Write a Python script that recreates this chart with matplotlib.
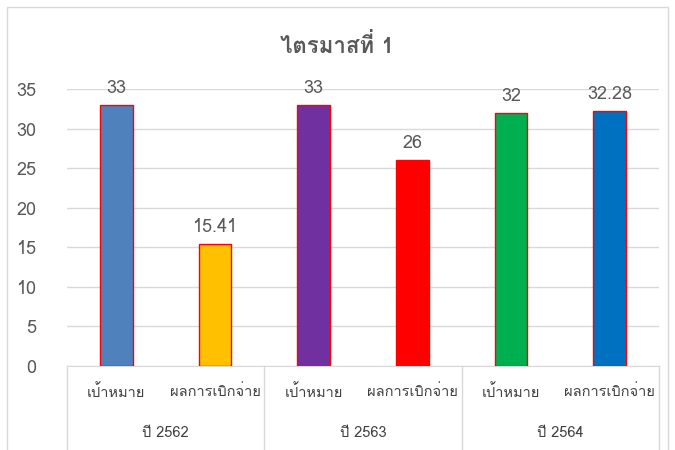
import matplotlib
matplotlib.use("Agg")
import matplotlib.pyplot as plt
from matplotlib import font_manager
from matplotlib.ft2font import FT2Font
from matplotlib.lines import Line2D
from matplotlib.patches import Rectangle

# ---- data ----
title = "ไตรมาสที่ 1"
groups = ["ปี 2562", "ปี 2563", "ปี 2564"]
subcats = ["เป้าหมาย", "ผลการเบิกจ่าย"]
values = [33, 15.41, 33, 26, 32, 32.28]
value_labels = ["33", "15.41", "33", "26", "32", "32.28"]
colors = ["#4F81BD", "#FFC000", "#7030A0", "#FF0000", "#00B050", "#0070C0"]
yticks = [0, 5, 10, 15, 20, 25, 30, 35]

# find a font with Thai glyphs
thai_family = None
for fe in font_manager.fontManager.ttflist:
    try:
        f = FT2Font(fe.fname)
        cm = f.get_charmap()
        if ord("ไ") in cm and ord("ป") in cm:
            thai_family = fe.name
            break
    except Exception:
        pass
fams = ([thai_family] if thai_family else []) + ["DejaVu Sans"]
plt.rcParams["font.family"] = fams

fig = plt.figure(figsize=(6.75, 4.5), dpi=100)
W, H = 675, 450
ax = fig.add_axes([67 / W, 1 - 366 / H, (659 - 67) / W, (366 - 89) / H])

n = len(values)
x = list(range(n))
ax.bar(x, values, width=0.33, color=colors, edgecolor="#FF0000", linewidth=1.0, zorder=3)
for xi, v, lab in zip(x, values, value_labels):
    ax.text(xi, v + 1.0, lab, ha="center", va="bottom", fontsize=13, color="#595959")

ax.set_xlim(-0.5, n - 0.5)
ax.set_ylim(0, 35)
ax.set_yticks(yticks)
ax.set_yticklabels([str(t) for t in yticks], fontsize=13, color="#595959")
ax.tick_params(axis="y", length=0, pad=22)
ax.tick_params(axis="x", length=0)
ax.set_xticks([])
ax.grid(axis="y", color="#D9D9D9", linewidth=1, zorder=0)
for s in ["top", "right", "left"]:
    ax.spines[s].set_visible(False)
ax.spines["bottom"].set_color("#D9D9D9")

# multi-level category labels
trans = ax.get_xaxis_transform()
sub_y = -(392 - 366) / (366 - 89)
grp_y = -(433 - 366) / (366 - 89)
for i in range(n):
    ax.text(i, sub_y, subcats[i % 2], transform=trans, ha="center", va="center",
            fontsize=10.5, color="#404040")
for g, name in enumerate(groups):
    ax.text(2 * g + 0.5, grp_y, name, transform=trans, ha="center", va="center",
            fontsize=10.5, color="#404040")
for b in [-0.5, 1.5, 3.5, 5.5]:
    ax.add_line(Line2D([b, b], [0, -(450 - 366) / (366 - 89)], transform=trans,
                       color="#D9D9D9", linewidth=1, clip_on=False))

fig.text(0.5, 1 - 45 / H, title, ha="center", va="center", fontsize=16,
         fontweight="semibold", color="#595959")

fig.patches.append(Rectangle((7 / W, -0.1), (668 - 7) / W, 1.1 - 7 / H,
                             transform=fig.transFigure, fill=False,
                             edgecolor="#D9D9D9", linewidth=1))

fig.savefig("out.png", dpi=100, facecolor="white")
